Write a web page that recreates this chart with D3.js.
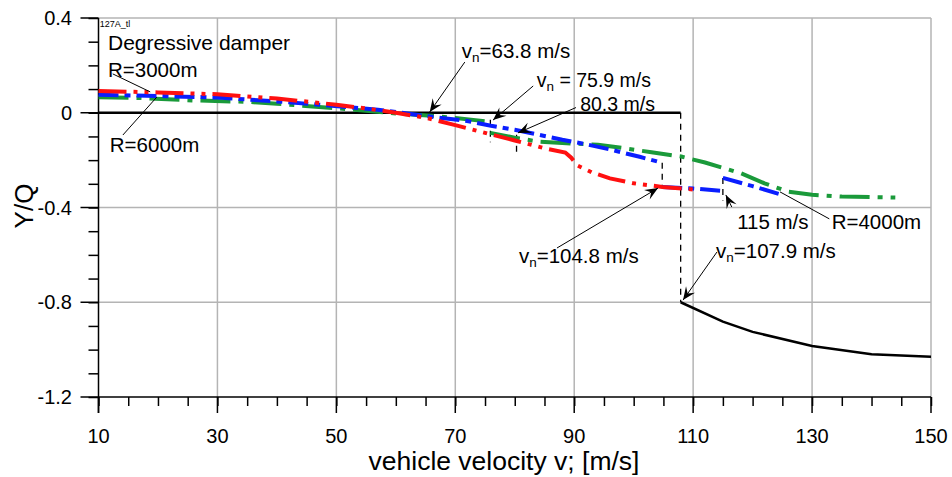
<!DOCTYPE html>
<html>
<head>
<meta charset="utf-8">
<script src="https://cdn.jsdelivr.net/npm/d3@7"></script>
<style>
  body { margin: 0; background: #fff; }
  svg text { font-family: "Liberation Sans", Arial, sans-serif; fill: #000; }
</style>
</head>
<body>
<div id="chart"></div>
<script>
var width = 952,
    height = 477

// x = vehicle velocity [m/s], y = Y/Q
var xTicks = [10, 30, 50, 70, 90, 110, 130, 150]
var yTicks = [0.4, 0, -0.4, -0.8, -1.2]
var yGrid = [0.4, -0.4, -0.8]

// R=3000m (red)
var red = [[10, 0.092], [20, 0.086], [30, 0.078], [40, 0.060], [50, 0.034], [55, 0.018], [60, 0.0],
  [65, -0.021], [70, -0.052], [75, -0.085], [80, -0.117], [85, -0.150], [88.5, -0.168], [89.5, -0.19],
  [90.5, -0.222], [93, -0.252], [96, -0.277], [100, -0.298], [104.8, -0.313], [110.5, -0.325]]

// R=4000m (blue), three pieces
var blue1 = [[10, 0.076], [20, 0.071], [30, 0.064], [40, 0.048], [47, 0.034], [57, 0.013], [66, -0.017],
  [72, -0.035], [76, -0.055], [80, -0.072], [85, -0.098], [88, -0.114], [92, -0.133], [96, -0.155],
  [101, -0.186], [104.8, -0.211]]
var blue2 = [[104.8, -0.313], [110, -0.32], [115, -0.33]]
var blue3 = [[115, -0.275], [120, -0.31], [125, -0.347]]

// R=6000m (green), two pieces
var green1 = [[10, 0.065], [17, 0.062], [26, 0.052], [35, 0.046], [40, 0.038], [53, 0.013], [60, -0.003],
  [66, -0.013], [70, -0.022], [75.9, -0.038]]
var green2 = [[75.9, -0.085], [80, -0.105], [84, -0.122], [88, -0.128], [94, -0.135], [98, -0.148],
  [103, -0.167], [108, -0.185], [112, -0.21], [118, -0.255], [122, -0.298], [126, -0.333], [130, -0.346],
  [135, -0.354], [144, -0.358]]

// black (critical) line
var black1 = [[10, 0], [107.9, 0]]
var black2 = [[107.9, -0.8], [115, -0.882], [120, -0.925], [130, -0.985], [140, -1.02], [150, -1.03]]

// dashed connectors [v, y1, y2]
var jumps = [[75.9, -0.03, -0.125], [80.3, -0.093, -0.17], [104.8, -0.211, -0.313], [107.9, 0, -0.8], [115, -0.275, -0.37]]

// annotations: text, text position, line start, line end, arrow?, font size
var notes = [
  {t: "R=3000m", at: [11.6, 0.151], from: [12.4, 0.164], to: [18.7, 0.088], arrow: false, fs: 20.5},
  {t: "R=6000m", at: [11.9, -0.166], from: [14.1, -0.094], to: [19.8, 0.066], arrow: false, fs: 20.5},
  {t: "v|n|=63.8 m/s", at: [71.1, 0.231], from: [71.6, 0.214], to: [65.7, 0.003], arrow: true, fs: 20.5},
  {t: "v|n| = 75.9 m/s", at: [83.7, 0.109], from: [83.1, 0.113], to: [76.35, -0.031], arrow: true, fs: 19.5},
  {t: "80.3 m/s", at: [91.0, 0.008], from: [90.3, 0.022], to: [80.55, -0.085], arrow: true, fs: 19.5},
  {t: "v|n|=104.8 m/s", at: [80.7, -0.634], from: [87.1, -0.571], to: [104.1, -0.318], arrow: true, fs: 20.5},
  {t: "v|n|=107.9 m/s", at: [113.85, -0.613], from: [114.0, -0.588], to: [108.3, -0.791], arrow: true, fs: 20.5},
  {t: "115 m/s", at: [117.4, -0.491], from: [116.5, -0.398], to: [115.5, -0.347], arrow: true, fs: 20.5},
  {t: "R=4000m", at: [133.3, -0.491], from: [132.9, -0.448], to: [124.6, -0.334], arrow: false, fs: 20.5}
]

var svg = d3.select("#chart").append("svg")
  .attr("width", width)
  .attr("height", height)

var x = d3.scaleLinear().domain([10, 150]).range([98.5, 931])
var y = d3.scaleLinear().domain([-1.2, 0.4]).range([397, 18])

svg.append("defs").append("marker")
  .attr("id", "arr")
  .attr("markerUnits", "userSpaceOnUse")
  .attr("viewBox", "-14 -7 16 14")
  .attr("refX", 0).attr("refY", 0)
  .attr("markerWidth", 16).attr("markerHeight", 14)
  .attr("orient", "auto")
  .append("path")
  .attr("d", "M0,0 L-13,-5.5 L-8,0 L-13,5.5 Z")
  .attr("fill", "#000")

// grid
svg.append("g").selectAll("line")
  .data(xTicks.slice(1))
  .enter().append("line")
  .attr("x1", d => x(d)).attr("x2", d => x(d))
  .attr("y1", y(0.4)).attr("y2", y(-1.2))
  .attr("stroke", "#b4b4b4").attr("stroke-width", 1.5)
svg.append("g").selectAll("line")
  .data(yGrid)
  .enter().append("line")
  .attr("x1", x(10)).attr("x2", x(150))
  .attr("y1", d => y(d)).attr("y2", d => y(d))
  .attr("stroke", "#b4b4b4").attr("stroke-width", 1.5)

// axes
var xAxis = d3.axisBottom(x).tickValues(d3.range(10, 151, 5)).tickSize(9).tickFormat("")
var yAxis = d3.axisLeft(y).tickValues(d3.range(-12, 5, 1).map(d => d / 10)).tickSize(10).tickFormat("")
var gx = svg.append("g").attr("transform", "translate(0," + y(-1.2) + ")").call(xAxis)
var gy = svg.append("g").attr("transform", "translate(" + x(10) + ",0)").call(yAxis)
gx.select(".domain").attr("d", "M" + x(10) + ",0H" + x(150))
gy.select(".domain").attr("d", "M0," + y(0.4) + "V" + (y(-1.2) + 16))
svg.selectAll(".tick line").attr("stroke", "#000").attr("stroke-width", 1.5)
svg.selectAll(".domain").attr("stroke", "#000").attr("stroke-width", 1.5)

// major ticks
svg.append("g").selectAll("line").data(xTicks).enter().append("line")
  .attr("x1", d => x(d)).attr("x2", d => x(d))
  .attr("y1", y(-1.2)).attr("y2", y(-1.2) + 16)
  .attr("stroke", "#000").attr("stroke-width", 1.5)
svg.append("g").selectAll("line").data(yTicks).enter().append("line")
  .attr("x1", x(10) - 18).attr("x2", x(10))
  .attr("y1", d => y(d)).attr("y2", d => y(d))
  .attr("stroke", "#000").attr("stroke-width", 1.5)

svg.append("g").selectAll("text").data(xTicks).enter().append("text")
  .attr("x", d => x(d)).attr("y", 443)
  .attr("text-anchor", "middle").style("font-size", "20px")
  .text(d => d)
svg.append("g").selectAll("text").data(yTicks).enter().append("text")
  .attr("x", 72).attr("y", d => y(d) + 7)
  .attr("text-anchor", "end").style("font-size", "20px")
  .text(d => d)

svg.append("text").attr("x", 504).attr("y", 470)
  .attr("text-anchor", "middle").style("font-size", "26.5px")
  .text("vehicle velocity v; [m/s]")
svg.append("text")
  .attr("transform", "translate(33,206) rotate(-90)")
  .attr("text-anchor", "middle").style("font-size", "26px")
  .text("Y/Q")

var line = d3.line().x(d => x(d[0])).y(d => y(d[1]))

// black critical line and dashed jumps
svg.append("path").datum(black1).attr("d", line)
  .attr("fill", "none").attr("stroke", "#000").attr("stroke-width", 2.5)
svg.append("path").datum(black2).attr("d", line)
  .attr("fill", "none").attr("stroke", "#000").attr("stroke-width", 2.5)
svg.append("g").selectAll("line").data(jumps).enter().append("line")
  .attr("x1", d => x(d[0])).attr("x2", d => x(d[0]))
  .attr("y1", d => y(d[1])).attr("y2", d => y(d[2]))
  .attr("stroke", "#000").attr("stroke-width", 1.3).attr("stroke-dasharray", "6,5")

var series = [
  {pts: green1, c: "#1a9a3a", dash: "30,8,5,8"},
  {pts: green2, c: "#1a9a3a", dash: "30,8,5,8"},
  {pts: blue1, c: "#0a1eff", dash: "20,6,6,6"},
  {pts: blue2, c: "#0a1eff", dash: "20,6,6,6"},
  {pts: blue3, c: "#0a1eff", dash: "20,6,6,6"},
  {pts: red, c: "#ff1010", dash: "28,7,4,7,4,7"}
]
series.forEach(s => {
  svg.append("path").datum(s.pts).attr("d", line)
    .attr("fill", "none").attr("stroke", s.c).attr("stroke-width", 4)
    .attr("stroke-dasharray", s.dash)
})

// labels
svg.append("text").attr("x", x(10.2)).attr("y", y(0.362)).style("font-size", "9px").text("127A_tl")
svg.append("text").attr("x", x(11.6)).attr("y", y(0.265)).style("font-size", "21px").text("Degressive damper")

notes.forEach(n => {
  svg.append("line")
    .attr("x1", x(n.from[0])).attr("y1", y(n.from[1]))
    .attr("x2", x(n.to[0])).attr("y2", y(n.to[1]))
    .attr("stroke", "#000").attr("stroke-width", 1)
    .attr("marker-end", n.arrow ? "url(#arr)" : null)
  var t = svg.append("text").attr("x", x(n.at[0])).attr("y", y(n.at[1])).style("font-size", n.fs + "px")
  var parts = n.t.split("|")
  if (parts.length == 1) {
    t.text(n.t)
  } else {
    t.append("tspan").text(parts[0])
    t.append("tspan").attr("dy", 4).style("font-size", "13.5px").text(parts[1])
    t.append("tspan").attr("dy", -4).text(parts[2])
  }
})
</script>
</body>
</html>
